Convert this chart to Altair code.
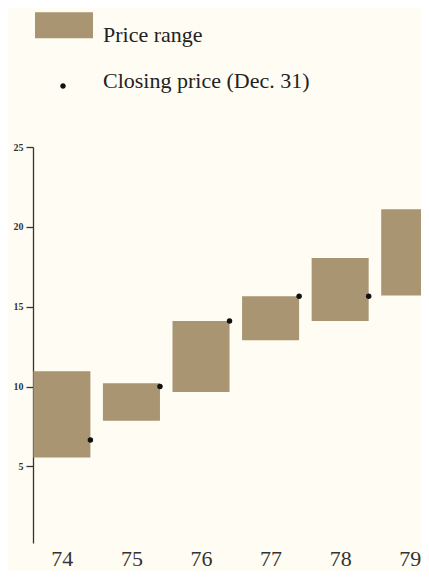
import altair as alt
import pandas as pd

years = [74, 75, 76, 77, 78, 79]
low = [5.55, 7.85, 9.65, 12.9, 14.1, 15.7]
high = [10.95, 10.2, 14.1, 15.65, 18.05, 21.1]
close_years = [74, 75, 76, 77, 78]
close = [6.65, 10.0, 14.1, 15.65, 15.65]

half = 0.41
bars = pd.DataFrame({
    "x0": [y - half for y in years],
    "x1": [y + half for y in years],
    "low": low,
    "high": high,
    "kind": ["Price range"] * len(years),
})
pts = pd.DataFrame({
    "x": [y + half for y in close_years],
    "close": close,
    "kind": ["Closing price (Dec. 31)"] * len(close_years),
})

FONT = "Liberation Serif"
TAN = "#a99572"

xscale = alt.Scale(domain=[73.585, 79.162], nice=False, zero=False)
yscale = alt.Scale(domain=[0.2, 25], nice=False, zero=False)

rect = alt.Chart(bars).mark_rect(clip=True).encode(
    x=alt.X("x0:Q", scale=xscale,
            axis=alt.Axis(values=years, format="d", title=None, domain=False,
                          ticks=False, grid=False, labelFontSize=22,
                          labelFont=FONT, labelColor="#333333",
                          labelPadding=5, labelBaseline="top")),
    x2="x1:Q",
    y=alt.Y("low:Q", scale=yscale,
            axis=alt.Axis(values=[5, 10, 15, 20, 25], title=None, grid=False,
                          domainColor="#333333", domainWidth=1.3,
                          tickColor="#333333", tickWidth=1.3, tickSize=7,
                          labelFont=FONT, labelFontSize=10, labelFontWeight="bold",
                          labelColor="#333333", labelPadding=3)),
    y2="high:Q",
    fill=alt.Fill("kind:N", scale=alt.Scale(domain=["Price range"], range=[TAN]),
                  legend=alt.Legend(orient="none", legendX=2, legendY=-141.3,
                                    title=None, symbolType="M-1,-0.77H1V0.12H-1Z",
                                    symbolSize=3364, symbolStrokeWidth=0,
                                    labelFont=FONT, labelFontSize=22,
                                    labelColor="#222222", labelOffset=10,
                                    labelLimit=400, padding=0)),
)

dots = alt.Chart(pts).mark_circle(size=30, opacity=1, clip=True).encode(
    x=alt.X("x:Q", scale=xscale),
    y=alt.Y("close:Q", scale=yscale),
    color=alt.Color("kind:N",
                    scale=alt.Scale(domain=["Closing price (Dec. 31)"], range=["#111111"]),
                    legend=alt.Legend(orient="none", legendX=19, legendY=-77.5,
                                      title=None,
                                      symbolType="M-0.55,1.1A0.55,0.55,0,1,1,0.55,1.1A0.55,0.55,0,1,1,-0.55,1.1Z",
                                      symbolSize=100, symbolStrokeWidth=0,
                                      symbolOpacity=1,
                                      labelFont=FONT, labelFontSize=22,
                                      labelColor="#222222", labelOffset=29,
                                      labelLimit=400, padding=0)),
)

chart = alt.layer(rect, dots).properties(
    width=388, height=396,
    background="#fffdf3",
    padding={"left": 25, "top": 139, "right": 0, "bottom": 28},
    autosize=alt.AutoSizeParams(type="none"),
).configure_view(stroke=None)

chart.save("out.html", embed_options={"renderer": "svg", "actions": False})
